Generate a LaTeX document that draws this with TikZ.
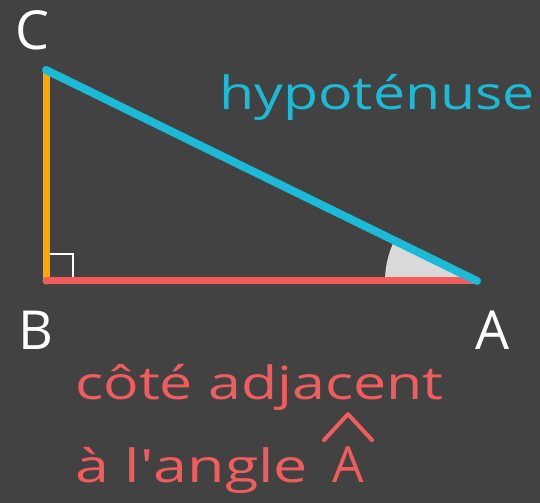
\documentclass[tikz,border=0pt]{standalone}
\usepackage{fontspec}
\setmainfont{Open Sans}
\usepackage{graphicx}
\definecolor{board}{HTML}{424242}
\definecolor{hypcol}{HTML}{1BBAD6}
\definecolor{adjcol}{HTML}{F25C5C}
\definecolor{oppcol}{HTML}{FFA600}
\definecolor{anglecol}{HTML}{D9D9D9}
\tikzset{
  side/.style={line width=7bp, line cap=round},
  vlabel/.style={text=white, font=\fontsize{54}{58}\selectfont, inner sep=0pt},
  redtext/.style={text=adjcol, font=\fontsize{46}{50}\selectfont, inner sep=0pt},
}
\begin{document}
\begin{tikzpicture}[x=1bp,y=1bp]
\fill[board] (0,0) rectangle (540,503);
\useasboundingbox (0,0) rectangle (540,503);
\coordinate (C) at (46,433);
\coordinate (B) at (46,222);
\coordinate (A) at (477,222);
% angle at A
\fill[anglecol] (A) -- ++(180:92) arc[start angle=180, end angle=153.9, radius=92] -- cycle;
% right angle mark
\draw[white, line width=1.8bp] ([xshift=27bp]B) |- ([yshift=27bp]B);
% sides
\draw[side, oppcol] (B) -- (C);
\draw[side, adjcol] (B) -- (A);
\draw[side, hypcol, line width=8bp] (C) -- (A);
% vertex labels
\node[vlabel] (lC) at (32,473) {C};
\node[vlabel] (lB) at (36,173) {B};
\node[vlabel] (lA) at (493,173) {A};
% texts
\node[text=hypcol, font=\fontsize{46}{50}\selectfont, inner sep=0pt, anchor=base] (hyp) at (377,393) {\scalebox{1.25}[1]{hypoténuse}};
\node[redtext, anchor=base west] (adj) at (75,103) {\scalebox{1.29}[1]{côté adjacent}};
\node[redtext, anchor=base west] (ang) at (75,20) {\scalebox{1.33}[1]{à l\textquotesingle angle}};
\node[redtext, anchor=base, font=\fontsize{50}{54}\selectfont] (angA) at (348,20) {A};
\draw[adjcol, line width=4bp, line cap=round, line join=round] ([xshift=-24bp,yshift=7bp]angA.north) -- ([yshift=33bp]angA.north) -- ([xshift=24bp,yshift=7bp]angA.north);
\end{tikzpicture}
\end{document}
